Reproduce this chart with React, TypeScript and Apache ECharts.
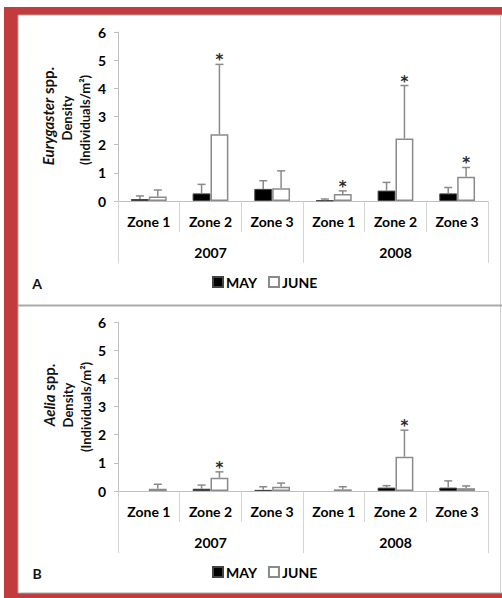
import React, { useEffect, useRef } from "react";
import * as echarts from "echarts";

const zones = ["Zone 1", "Zone 2", "Zone 3", "Zone 1", "Zone 2", "Zone 3"];
const years = ["2007", "2008"];
const yTicks = [0, 6, 1];
const seriesNames = ["MAY", "JUNE"];

// Panel A: Eurygaster spp.
const mayA = [0.07, 0.27, 0.43, 0.02, 0.37, 0.27];
const mayErrTopA = [0.18, 0.59, 0.72, 0.07, 0.66, 0.48];
const juneA = [0.16, 2.37, 0.45, 0.25, 2.22, 0.86];
const juneErrTopA = [0.39, 4.85, 1.07, 0.36, 4.1, 1.19];
const juneSigA = [0, 1, 0, 1, 1, 1];

// Panel B: Aelia spp.
const mayB = [0, 0.08, 0.04, 0, 0.12, 0.12];
const mayErrTopB = [null, 0.21, 0.15, null, 0.19, 0.36];
const juneB = [0.08, 0.47, 0.15, 0.06, 1.22, 0.1];
const juneErrTopB = [0.24, 0.68, 0.28, 0.15, 2.16, 0.18];
const juneSigB = [0, 1, 0, 0, 1, 0];

const FONT = "Lato";
const BAR_FRAC = 0.29;
const ERR_COLOR = "#8a8a8a";

function errSeries(
  values: number[],
  tops: (number | null)[],
  sigs: number[] | null,
  side: number,
  axisIdx: number,
  yIdx: number
) {
  return {
    type: "custom",
    xAxisIndex: axisIdx,
    yAxisIndex: yIdx,
    silent: true,
    z: 10,
    data: values.map((v, i) => [i, v, tops[i] == null ? -1 : tops[i], sigs ? sigs[i] : 0]),
    renderItem: (params: any, api: any) => {
      const i = api.value(0);
      const v = api.value(1);
      const t = api.value(2);
      const s = api.value(3);
      if (t < 0) return null;
      const cw = api.size([1, 0])[0];
      const bw = cw * BAR_FRAC;
      const p0 = api.coord([i, v]);
      const p1 = api.coord([i, t]);
      const x = p0[0] + (side * bw) / 2;
      const children: any[] = [
        {
          type: "line",
          shape: { x1: x, y1: p0[1], x2: x, y2: p1[1] },
          style: { stroke: ERR_COLOR, lineWidth: 1.5 },
        },
        {
          type: "line",
          shape: { x1: x - 4, y1: p1[1], x2: x + 4, y2: p1[1] },
          style: { stroke: ERR_COLOR, lineWidth: 1.5 },
        },
      ];
      if (s) {
        children.push({
          type: "text",
          x: x,
          y: p1[1] - 4,
          style: {
            text: "*",
            fill: "#2a2a2a",
            fontFamily: "DejaVu Sans",
            fontWeight: "bold",
            fontSize: 15,
            align: "center",
            verticalAlign: "middle",
          },
        });
      }
      return { type: "group", children };
    },
  };
}

function barSeries(name: string, data: number[], xIdx: number, yIdx: number) {
  const isMay = name === "MAY";
  return {
    name,
    type: "bar",
    xAxisIndex: xIdx,
    yAxisIndex: yIdx,
    barWidth: BAR_FRAC * 100 + "%",
    barGap: "0%",
    data: data.map((v) => (v === 0 ? "-" : v)),
    itemStyle: isMay
      ? { color: "#000", borderColor: "#444", borderWidth: 1 }
      : { color: "#fff", borderColor: "#8a8a8a", borderWidth: 1.5 },
  };
}

const labelStyle = { fontFamily: FONT, fontWeight: "bold" as const, fontSize: 14, color: "#000" };

function xAxes(gridIndex: number) {
  return [
    {
      type: "category",
      gridIndex,
      data: zones,
      position: "bottom",
      axisLine: { show: true, lineStyle: { color: "#bfbfbf", width: 1 } },
      axisTick: { show: true, length: 31, lineStyle: { color: "#d4d4d4", width: 1 } },
      axisLabel: { ...labelStyle, margin: 13, interval: 0 },
    },
    {
      type: "category",
      gridIndex,
      data: years,
      position: "bottom",
      axisLine: { show: false },
      axisTick: { show: true, length: 62, lineStyle: { color: "#d4d4d4", width: 1 } },
      axisLabel: { ...labelStyle, margin: 44, interval: 0 },
    },
  ];
}

function yAxis(gridIndex: number) {
  return {
    type: "value",
    gridIndex,
    min: yTicks[0],
    max: yTicks[1],
    interval: yTicks[2],
    axisLine: { show: true, lineStyle: { color: "#bfbfbf", width: 1 } },
    axisTick: { show: true, length: 4, lineStyle: { color: "#bfbfbf" } },
    splitLine: { show: false },
    axisLabel: { ...labelStyle, margin: 12 },
  };
}

function yTitle(cx: number, cy1: number, cy2: number, italicWord: string) {
  const rot = Math.PI / 2;
  return [
    {
      type: "text",
      x: cx,
      y: cy1,
      rotation: rot,
      style: {
        text: `{i|${italicWord}} spp.`,
        align: "center",
        verticalAlign: "middle",
        fill: "#111",
        font: `bold 15px ${FONT}`,
        rich: {
          i: { fontStyle: "italic", fontWeight: "bold", fontSize: 15, fontFamily: FONT, fill: "#111" },
        },
      },
    },
    {
      type: "text",
      x: cx + 19,
      y: cy2,
      rotation: rot,
      style: { text: "Density", align: "center", verticalAlign: "middle", fill: "#111", font: `bold 13px ${FONT}` },
    },
    {
      type: "text",
      x: cx + 37,
      y: cy2 + 2,
      rotation: rot,
      style: {
        text: "(Individuals/m²)",
        align: "center",
        verticalAlign: "middle",
        fill: "#111",
        font: `bold 13px ${FONT}`,
      },
    },
  ];
}

export default function App() {
  const ref = useRef<HTMLDivElement>(null);
  useEffect(() => {
    if (!ref.current) return;
    const chart = echarts.init(ref.current, undefined, { renderer: "svg" });
    const option: any = {
      animation: false,
      backgroundColor: "#fff",
      grid: [
        { left: 118, top: 32, width: 370, height: 169, containLabel: false },
        { left: 118, top: 322, width: 370, height: 169, containLabel: false },
      ],
      xAxis: [...xAxes(0), ...xAxes(1)],
      yAxis: [yAxis(0), yAxis(1)],
      legend: [
        {
          data: seriesNames,
          left: 212,
          top: 275,
          padding: 0,
          itemWidth: 10,
          itemHeight: 10,
          itemGap: 11,
          icon: "rect",
          textStyle: { ...labelStyle, padding: [0, 0, 0, -2] },
        },
        {
          data: seriesNames,
          left: 212,
          top: 565,
          padding: 0,
          itemWidth: 10,
          itemHeight: 10,
          itemGap: 11,
          icon: "rect",
          textStyle: { ...labelStyle, padding: [0, 0, 0, -2] },
        },
      ],
      graphic: [
        { type: "rect", z: -10, shape: { x: 4, y: 7, width: 498, height: 591 }, style: { fill: "#c23b3d" } },
        {
          type: "rect",
          z: -9,
          shape: { x: 18, y: 15, width: 486, height: 578 },
          style: { fill: "#fff", stroke: "#a8a8a8", lineWidth: 1 },
        },
        {
          type: "line",
          z: -8,
          shape: { x1: 500.5, y1: 15, x2: 500.5, y2: 593 },
          style: { stroke: "#d0d0d0", lineWidth: 1 },
        },
        {
          type: "line",
          z: -8,
          shape: { x1: 18, y1: 305.5, x2: 502, y2: 305.5 },
          style: { stroke: "#aaaaaa", lineWidth: 2 },
        },
        {
          type: "text",
          x: 37,
          y: 283,
          style: { text: "A", font: `bold 14px ${FONT}`, fill: "#111", align: "center", verticalAlign: "middle" },
        },
        {
          type: "text",
          x: 37,
          y: 573,
          style: { text: "B", font: `bold 14px ${FONT}`, fill: "#111", align: "center", verticalAlign: "middle" },
        },
        ...yTitle(48, 116, 118, "Eurygaster"),
        ...yTitle(49, 395, 405, "Aelia"),
      ],
      series: [
        barSeries("MAY", mayA, 0, 0),
        barSeries("JUNE", juneA, 0, 0),
        errSeries(mayA, mayErrTopA, null, -1, 0, 0),
        errSeries(juneA, juneErrTopA, juneSigA, 1, 0, 0),
        barSeries("MAY", mayB, 2, 1),
        barSeries("JUNE", juneB, 2, 1),
        errSeries(mayB, mayErrTopB, null, -1, 2, 1),
        errSeries(juneB, juneErrTopB, juneSigB, 1, 2, 1),
      ],
    };
    chart.setOption(option);
    return () => chart.dispose();
  }, []);
  return (
    <div
      ref={ref}
      style={{ position: "fixed", left: 0, top: 0, width: 502, height: 598 }}
    />
  );
}
